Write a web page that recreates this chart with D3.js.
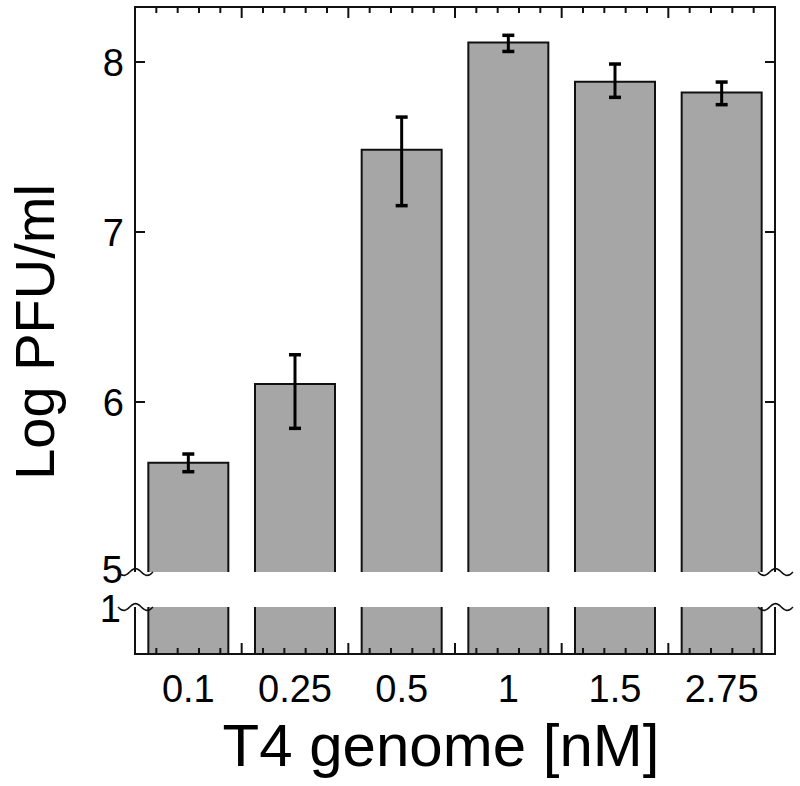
<!DOCTYPE html>
<html><head><meta charset="utf-8">
<script src="https://cdn.jsdelivr.net/npm/d3@7"></script>
<style>
html,body{margin:0;padding:0;background:#fff;}
svg{display:block;font-family:"Liberation Sans",Arial,Helvetica,sans-serif;}
</style></head>
<body>
<svg id="chart" width="800" height="786"></svg>
<script>
const categories = ["0.1","0.25","0.5","1","1.5","2.75"];
const values = [5.643, 6.106, 7.484, 8.115, 7.884, 7.821];
const errUp = [0.051, 0.172, 0.192, 0.042, 0.104, 0.061];
const errDown = [0.053, 0.261, 0.329, 0.053, 0.092, 0.072];
const yTicksUpper = [6, 7, 8];
const breakLabelUpper = "5";
const breakLabelLower = "1";
const xTitle = "T4 genome [nM]";
const yTitle = "Log PFU/ml";

(function () {
const svg = d3.select("#chart");
const pLeft = 135, pRight = 775, pTop = 7, pBottom = 654;
const breakTop = 572, breakBottom = 607;

const x = d3.scaleBand().domain(categories).range([pLeft, pRight]).paddingInner(0.25).paddingOuter(0.125);
const xOuter = d3.scaleLinear().domain([0, categories.length]).range([pLeft, pRight]);
const yU = d3.scaleLinear().domain([5, 8.3235]).range([breakTop, pTop]);
const yL = d3.scaleLinear().domain([0, 1]).range([pBottom, breakBottom]);

const barFill = "#a6a6a6";

svg.append("g").selectAll("rect").data(values).join("rect")
  .attr("x", (d,i) => x(categories[i]))
  .attr("width", x.bandwidth())
  .attr("y", d => yU(d))
  .attr("height", d => yU(5) - yU(d))
  .attr("fill", barFill);
svg.append("g").selectAll("path").data(values).join("path")
  .attr("d", (d,i) => {
    const x0 = x(categories[i]), x1 = x0 + x.bandwidth();
    return `M${x0},${yU(5)}V${yU(d)}H${x1}V${yU(5)}`;
  })
  .attr("fill", "none").attr("stroke", "#111").attr("stroke-width", 2);

svg.append("g").selectAll("rect").data(values).join("rect")
  .attr("x", (d,i) => x(categories[i]))
  .attr("width", x.bandwidth())
  .attr("y", d => yL(Math.min(d, 1)))
  .attr("height", d => yL(0) - yL(Math.min(d, 1)))
  .attr("fill", barFill);
svg.append("g").selectAll("path").data(values).join("path")
  .attr("d", (d,i) => {
    const x0 = x(categories[i]), x1 = x0 + x.bandwidth();
    return `M${x0},${yL(1)}V${yL(0)}M${x1},${yL(1)}V${yL(0)}`;
  })
  .attr("fill", "none").attr("stroke", "#111").attr("stroke-width", 2);

const eb = svg.append("g").attr("stroke", "#000").attr("stroke-width", 3).attr("fill", "none");
values.forEach((v, i) => {
  const cx = x(categories[i]) + x.bandwidth() / 2;
  const yt = yU(v + errUp[i]), yb = yU(v - errDown[i]);
  eb.append("line").attr("x1", cx).attr("x2", cx).attr("y1", yt).attr("y2", yb);
  eb.append("line").attr("x1", cx - 6).attr("x2", cx + 6).attr("y1", yt).attr("y2", yt).attr("stroke-width", 3.5);
  eb.append("line").attr("x1", cx - 6).attr("x2", cx + 6).attr("y1", yb).attr("y2", yb).attr("stroke-width", 3.5);
});

const frame = svg.append("g").attr("stroke", "#111").attr("stroke-width", 2).attr("fill", "none");
frame.append("path").attr("d", `M${pLeft},${breakTop}V${pTop}H${pRight}V${breakTop}`);
frame.append("path").attr("d", `M${pLeft},${breakBottom}V${pBottom}H${pRight}V${breakBottom}`);

const nSub = categories.length * 5;
const tickIdx = d3.range(1, nSub);
const tg = svg.append("g").attr("stroke", "#111").attr("stroke-width", 2);
tickIdx.forEach(k => {
  const xx = xOuter(k / 5);
  const major = k % 5 === 0;
  const len = major ? 11 : 6;
  tg.append("line").attr("x1", xx).attr("x2", xx).attr("y1", pTop).attr("y2", pTop + len);
  tg.append("line").attr("x1", xx).attr("x2", xx).attr("y1", pBottom).attr("y2", pBottom - len);
});

yTicksUpper.forEach(t => {
  tg.append("line").attr("x1", pLeft).attr("x2", pLeft + 10).attr("y1", yU(t)).attr("y2", yU(t));
  tg.append("line").attr("x1", pRight).attr("x2", pRight - 10).attr("y1", yU(t)).attr("y2", yU(t));
});

const labFs = 38;
const lab = svg.append("g").attr("font-size", labFs).attr("fill", "#000").attr("text-anchor", "end");
yTicksUpper.forEach(t => {
  lab.append("text").attr("x", pLeft - 11).attr("y", yU(t)).attr("dy", "0.36em").text(String(t));
});
lab.append("text").attr("x", pLeft - 12).attr("y", yU(5) - 3).attr("dy", "0.36em").text(breakLabelUpper);
lab.append("text").attr("x", pLeft - 14).attr("y", yL(1) + 1).attr("dy", "0.36em").text(breakLabelLower);

svg.append("g").attr("font-size", labFs).attr("text-anchor", "middle").selectAll("text")
  .data(categories).join("text")
  .attr("x", d => x(d) + x.bandwidth() / 2)
  .attr("y", 702)
  .text(d => d);

function wave(xc, yc) {
  const pts = d3.range(0, 1.0001, 0.05).map(t => [xc - 17 + 35 * t, yc + 3.5 * Math.sin(t * Math.PI * 3)]);
  return d3.line().curve(d3.curveBasis)(pts);
}
const bm = svg.append("g").attr("stroke", "#111").attr("stroke-width", 1.6).attr("fill", "none");
[[pLeft, breakTop], [pLeft, breakBottom], [pRight, breakTop], [pRight, breakBottom]].forEach(([xc, yc]) => {
  bm.append("path").attr("d", wave(xc, yc));
});

svg.append("text").attr("x", 441).attr("y", 766)
  .attr("text-anchor", "middle").attr("font-size", 60).text(xTitle);
svg.append("text").attr("transform", `translate(54,332) rotate(-90)`)
  .attr("text-anchor", "middle").attr("font-size", 56).text(yTitle);
})();
</script>
</body></html>
